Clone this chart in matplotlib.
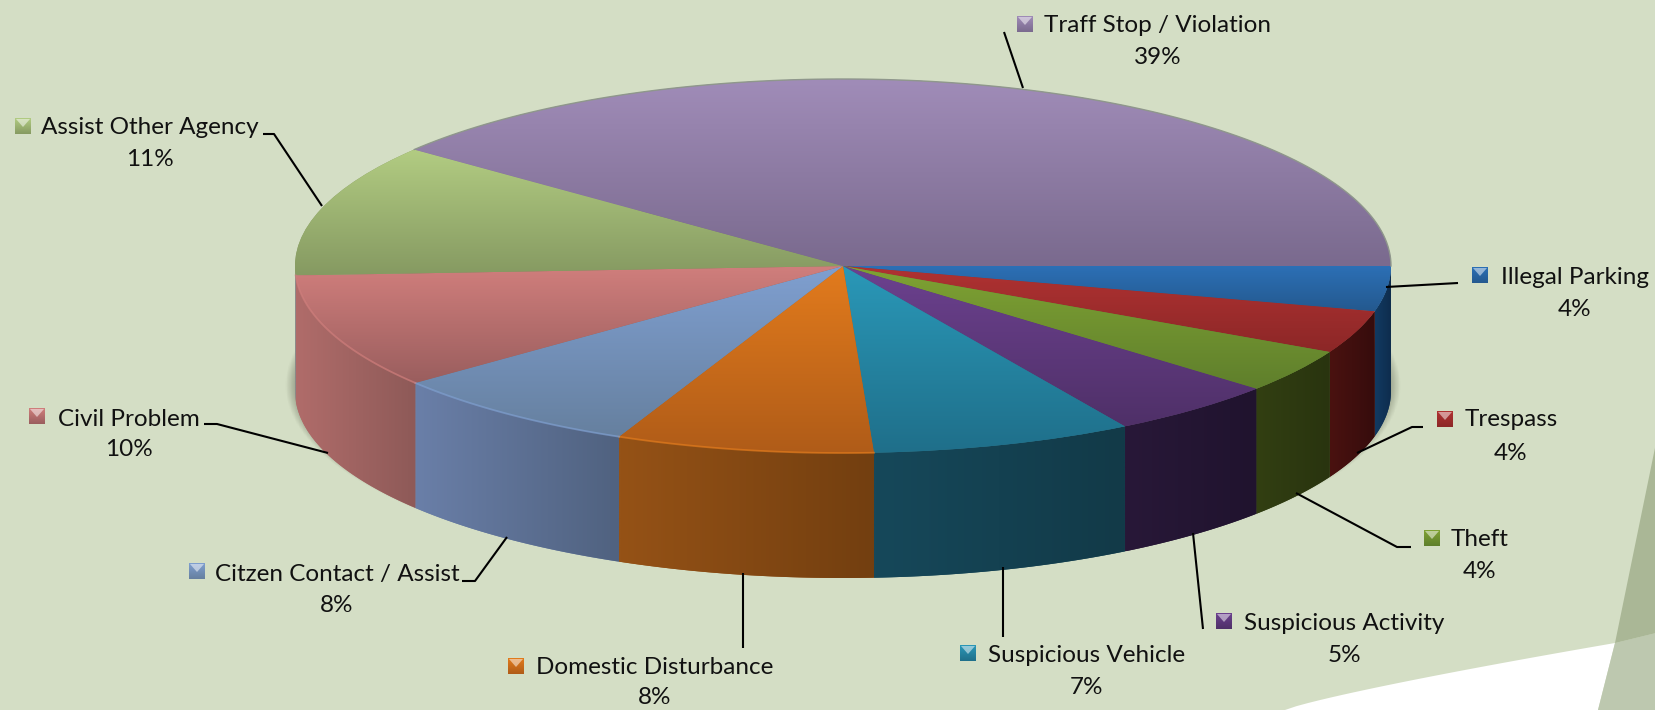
#!/usr/bin/env python3
"""Calls for service, drawn as a tilted 3D pie on top of ax.pie."""

import numpy as np
import matplotlib
matplotlib.use("Agg")
import matplotlib.pyplot as plt
from matplotlib.colors import to_rgb
from matplotlib.patches import Polygon

W, H = 1656, 710

# data, clockwise from the right hand side of the pie
categories = ["Illegal Parking", "Trespass", "Theft", "Suspicious Activity",
              "Suspicious Vehicle", "Domestic Disturbance",
              "Citzen Contact / Assist", "Civil Problem",
              "Assist Other Agency", "Traff Stop / Violation"]
percent_labels = [4, 4, 4, 5, 7, 8, 8, 10, 11, 39]
# slice sizes as measured on the picture, the labels above are the rounded ones
slice_shares = [3.9, 3.7, 3.8, 5.0, 7.7, 7.6, 7.55, 9.95, 11.5, 39.3]

# styles
top_light = ["#2c70b6", "#b03232", "#7fa233", "#6c418f", "#2a98b8",
             "#e27b1d", "#7f9fd0", "#d07e7c", "#b2cc82", "#a08cb8"]
top_dark = ["#24598f", "#8c2727", "#5f7f2c", "#4f3068", "#1f6f8a",
            "#b05c18", "#66809f", "#9a5e5e", "#869a62", "#7a6a8e"]
side_left = ["#123a62", "#4a1210", "#323f12", "#281838", "#16485a",
             "#955216", "#6a7fa8", "#b06c6a", "#888888", "#888888"]
side_right = ["#0e2c4c", "#360c0c", "#29340f", "#20132e", "#123a48",
              "#733f10", "#506280", "#8e5a58", "#888888", "#888888"]
rim_alpha = [0, 0, 0, 0, 0, 0.7, 0.7, 0.7, 0, 0]

# layout, in pixels of the picture
CX, CY, RX, RY, DEPTH = 843, 266, 548, 187, 125
label_x = [1575, 1511, 1480, 1344, 1087, 655, 337, 129, 150, 1158]
name_y = [277, 420, 540, 624, 656, 668, 574, 419, 128, 25]
pct_y = [309, 453, 572, 655, 687, 698, 605, 450, 160, 58]
key_x = [1472, 1437, 1424, 1216, 960, 508, 189, 29, 15, 1017]
key_y = [267, 411, 530, 613, 645, 658, 563, 408, 118, 16]
KEY = 16
leaders = [
    [(1386, 287), (1458, 283)],
    [(1357, 453), (1412, 427), (1423, 427)],
    [(1296, 493), (1397, 547), (1411, 547)],
    [(1193, 533), (1203, 629)],
    [(1003, 567), (1003, 637)],
    [(743, 573), (743, 648)],
    [(507, 537), (475, 581), (462, 581)],
    [(328, 453), (217, 424), (204, 424)],
    [(322, 206), (274, 134), (263, 134)],
    [(1023, 88), (1004, 32)],
]

BG = "#d4dec5"
FONT = "Lato"
FONT_SIZE = 17.5


def gradient(ax, c0, c1, extent, clip, vertical, zorder):
    """Two colour gradient image, clipped to a patch."""
    a, b = np.array(to_rgb(c0)), np.array(to_rgb(c1))
    t = np.linspace(0, 1, 64)[:, None]
    img = a * (1 - t) + b * t
    img = img[:, None, :] if vertical else img[None, :, :]
    im = ax.imshow(img, extent=extent, aspect="auto", origin="upper",
                   interpolation="bilinear", zorder=zorder)
    im.set_clip_path(clip)


def main():
    fig = plt.figure(figsize=(W / 100, H / 100), dpi=100, facecolor=BG)

    # background shapes in picture pixels
    back = fig.add_axes([0, 0, 1, 1], zorder=0)
    back.set_xlim(0, W)
    back.set_ylim(H, 0)
    back.axis("off")
    sx = np.linspace(1285, 1615, 30)
    sy = 710 - 67 * ((sx - 1285) / 330) ** 0.85
    back.fill(np.r_[sx, 1598, 1285], np.r_[sy, 710, 710], color="white", lw=0)
    back.fill([1615, 1656, 1656, 1598], [643, 633, 710, 710], color="#bdc8af", lw=0)
    back.fill([1656, 1656, 1615], [443, 633, 643], color="#aab796", lw=0)

    # the pie lives in an axes where one data unit is RX wide and RY high
    ax = fig.add_axes([0, 0, 1, 1], zorder=1)
    wedges, _ = ax.pie(slice_shares, startangle=0, counterclock=False, frame=True)
    ax.set_aspect("auto")
    ax.set_xlim(-CX / RX, (W - CX) / RX)
    ax.set_ylim((CY - H) / RY, CY / RY)
    ax.axis("off")
    ax.patch.set_alpha(0)
    ax.autoscale(False)
    depth = DEPTH / RY

    # soft shadow under the base
    xs = np.linspace(-1.1, 1.1, 900)
    ys = np.linspace(-2.0, 0.6, 500)
    gx, gy = np.meshgrid(xs, ys)
    r = np.hypot(gx / 1.018, (gy + 0.64) / 1.03)
    alpha = np.clip((1 - r) / 0.03, 0, 1) * 0.6
    shadow = np.zeros(gx.shape + (4,))
    shadow[..., :3] = to_rgb("#3f4632")
    shadow[..., 3] = alpha
    ax.imshow(shadow, extent=(-1.1, 1.1, -2.0, 0.6), origin="lower",
              aspect="auto", zorder=0.1)

    for i, w in enumerate(wedges):
        t1, t2 = w.theta1, w.theta2
        # wall, only the part of the slice that faces the viewer
        lo, hi = max(t1, -180), min(t2, 0)
        if hi > lo:
            t = np.radians(np.linspace(lo, hi, 60))
            x, y = np.cos(t), np.sin(t)
            wall = Polygon(np.c_[np.r_[x, x[::-1]], np.r_[y, y[::-1] - depth]],
                           transform=ax.transData, fc=side_left[i], ec="none", zorder=0.5)
            ax.add_patch(wall)
            gradient(ax, side_left[i], side_right[i],
                     (x.min(), x.max(), (y - depth).min(), y.max()), wall, False, 0.6)

        # top face, each slice has its own light to dark fade
        w.set_facecolor(top_dark[i])
        w.set_edgecolor("none")
        w.set_zorder(1)
        t = np.radians(np.linspace(t1, t2, 120))
        px_, py_ = np.r_[0, np.cos(t)], np.r_[0, np.sin(t)]
        gradient(ax, top_light[i], top_dark[i],
                 (px_.min(), px_.max(), py_.min(), py_.max()), w, True, 1.5)

        # thin rim along the edge of the top
        if hi > lo and rim_alpha[i] > 0:
            tt = np.radians(np.linspace(lo, hi, 60))
            ax.plot(np.cos(tt), np.sin(tt), color=top_light[i], lw=1.3,
                    alpha=rim_alpha[i], zorder=2)
        if hi <= lo:
            tt = np.radians(np.linspace(t1, t2, 120))
            ax.plot(np.cos(tt), np.sin(tt), color="#8f978c", lw=1.0, zorder=2)

    # labels and leader lines on top, again in picture pixels
    over = fig.add_axes([0, 0, 1, 1], zorder=2)
    over.set_xlim(0, W)
    over.set_ylim(H, 0)
    over.axis("off")
    over.patch.set_alpha(0)

    for i, name in enumerate(categories):
        lx, ly = zip(*leaders[i])
        over.plot(lx, ly, color="black", lw=1.5, solid_capstyle="butt", zorder=3)

        over.text(label_x[i], name_y[i], name, ha="center", va="center",
                  family=FONT, fontsize=FONT_SIZE, color="#111111")
        over.text(label_x[i], pct_y[i], f"{percent_labels[i]}%", ha="center", va="center",
                  family=FONT, fontsize=FONT_SIZE, color="#111111")

        # bevelled legend key
        kx, ky = key_x[i], key_y[i]
        key = Polygon([(kx, ky), (kx + KEY, ky), (kx + KEY, ky + KEY), (kx, ky + KEY)],
                      transform=over.transData, fc=top_dark[i], ec="none", zorder=3)
        over.add_patch(key)
        gradient(over, top_light[i], top_dark[i], (kx, kx + KEY, ky + KEY, ky), key, True, 3.1)
        over.add_patch(Polygon([(kx + 1, ky + 1), (kx + KEY - 1, ky + 1), (kx + KEY / 2, ky + KEY / 2 + 1)],
                               fc="white", alpha=0.5, ec="none", zorder=3.2))
    over.set_xlim(0, W)
    over.set_ylim(H, 0)

    fig.savefig("out.png", dpi=100, facecolor=BG)


if __name__ == "__main__":
    main()
